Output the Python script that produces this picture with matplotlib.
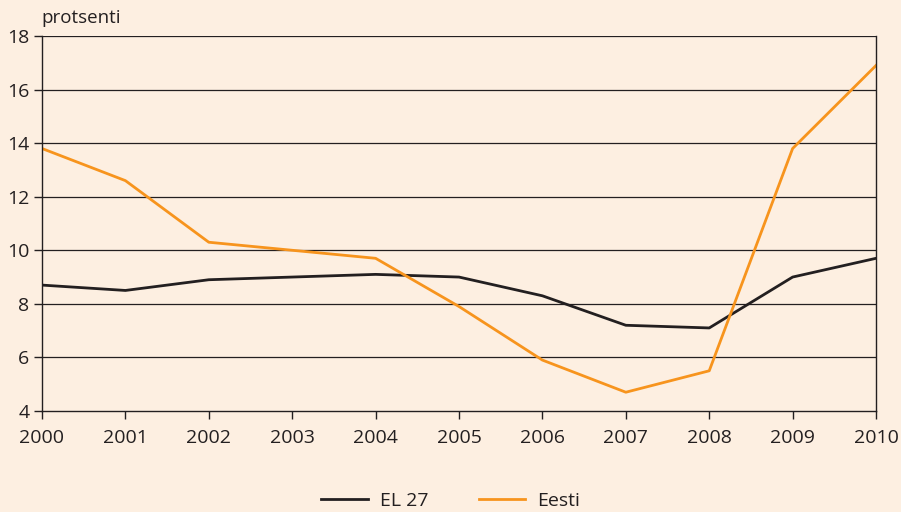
import matplotlib.pyplot as plt

years = [2000, 2001, 2002, 2003, 2004, 2005, 2006, 2007, 2008, 2009, 2010]
el27 = [8.7, 8.5, 8.9, 9.0, 9.1, 9.0, 8.3, 7.2, 7.1, 9.0, 9.7]
eesti = [13.8, 12.6, 10.3, 10.0, 9.7, 7.9, 5.9, 4.7, 5.5, 13.8, 16.9]

bg = '#FDEFE1'
dark = '#231F20'
plt.rcParams['font.family'] = ['Open Sans', 'DejaVu Sans']

fig = plt.figure(figsize=(9.01, 5.12), dpi=100, facecolor=bg)
ax = fig.add_axes([0.0466, 0.1973, 0.9257, 0.7324], facecolor=bg)

ax.plot(years, el27, color=dark, lw=2, label='EL 27')
ax.plot(years, eesti, color='#F7941D', lw=2, label='Eesti')

ax.set_xlim(2000, 2010)
ax.set_ylim(4, 18)
ax.set_xticks(years)
ax.set_yticks(range(4, 19, 2))
for y in range(6, 19, 2):
    ax.axhline(y, color=dark, lw=0.9, zorder=0)
for s in ['left', 'bottom', 'right']:
    ax.spines[s].set_color(dark)
    ax.spines[s].set_linewidth(1.0)
ax.spines['top'].set_visible(False)
ax.tick_params(colors=dark, labelsize=14, length=6, width=1.0, direction='out')
ax.tick_params(axis='x', pad=7)
ax.tick_params(axis='y', pad=3)

fig.text(0.046, 0.948, 'protsenti', fontsize=13.5, color=dark, ha='left', va='bottom')
fig.legend(loc='lower center', bbox_to_anchor=(0.5, -0.03), ncol=2, frameon=False,
           fontsize=14, handlelength=2.4, handletextpad=0.6, columnspacing=2.6,
           labelcolor=dark)

fig.savefig('out.png', dpi=100, facecolor=bg)
